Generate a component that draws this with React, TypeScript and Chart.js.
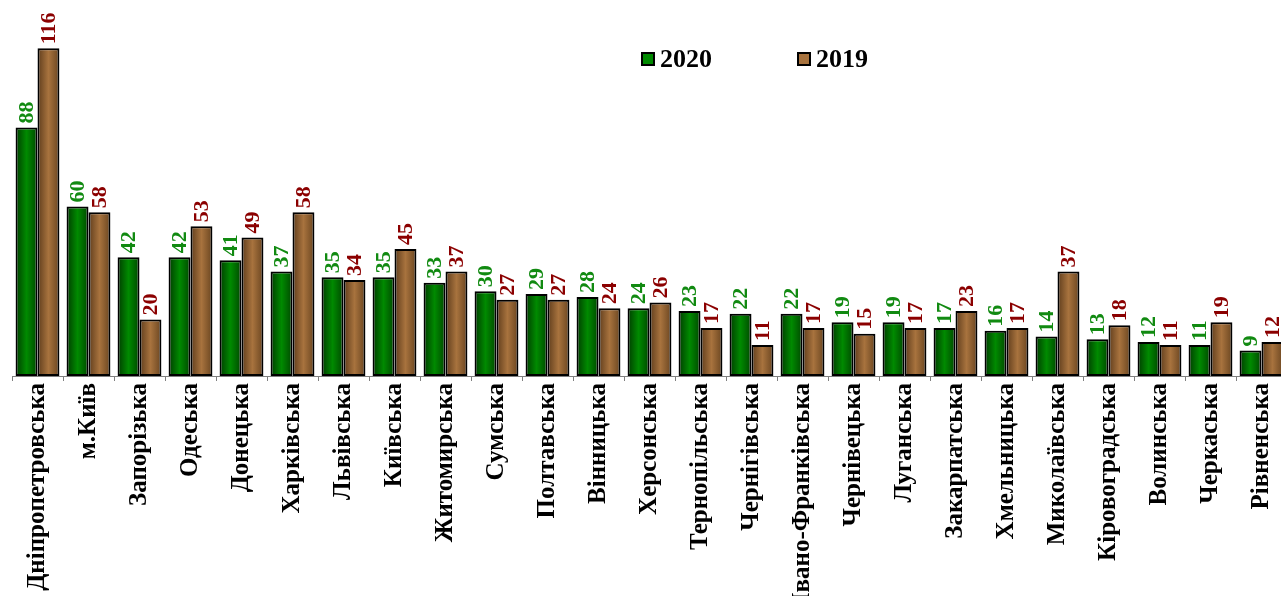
import React, { useEffect, useRef } from "react";
import { Chart, registerables } from "chart.js";

Chart.register(...registerables);

const categories = [
  "Дніпропетровська", "м.Київ", "Запорізька", "Одеська", "Донецька", "Харківська",
  "Львівська", "Київська", "Житомирська", "Сумська", "Полтавська", "Вінницька",
  "Херсонська", "Тернопільська", "Чернігівська", "Івано-Франківська", "Чернівецька",
  "Луганська", "Закарпатська", "Хмельницька", "Миколаївська", "Кіровоградська",
  "Волинська", "Черкаська", "Рівненська",
];
const values2020 = [88, 60, 42, 42, 41, 37, 35, 35, 33, 30, 29, 28, 24, 23, 22, 22, 19, 19, 17, 16, 14, 13, 12, 11, 9];
const values2019 = [116, 58, 20, 53, 49, 58, 34, 45, 37, 27, 27, 24, 26, 17, 11, 17, 15, 17, 23, 17, 37, 18, 11, 19, 12];
const seriesNames = ["2020", "2019"];

const FONT = "'Liberation Serif', 'Times New Roman', serif";
const barColors = ["#006e00", "#97632f"];
const gradStops = [
  ["#003c00", "#008a00", "#004800"],
  ["#5e3c1c", "#a8733e", "#6a4520"],
];
const labelColors = ["#118a11", "#8b0000"];
const CAT_PCT = 0.86;

function makeFill(di: number) {
  return (c: any) => {
    const chart = c.chart;
    const xs = chart.scales?.x;
    if (!xs || c.dataIndex == null || !chart.ctx) return barColors[di];
    const center = xs.getPixelForValue(c.dataIndex);
    const catW = xs.width / categories.length;
    const w = (catW * CAT_PCT) / 2;
    const left = di === 0 ? center - w : center;
    if (!isFinite(left)) return barColors[di];
    const g = chart.ctx.createLinearGradient(left, 0, left + w, 0);
    g.addColorStop(0, gradStops[di][0]);
    g.addColorStop(0.5, gradStops[di][1]);
    g.addColorStop(1, gradStops[di][2]);
    return g;
  };
}

const valueLabelPlugin = {
  id: "valueLabels",
  afterDatasetsDraw(chart: any) {
    const ctx = chart.ctx;
    ctx.save();
    ctx.font = `bold 22px ${FONT}`;
    chart.data.datasets.forEach((ds: any, di: number) => {
      const meta = chart.getDatasetMeta(di);
      meta.data.forEach((el: any, i: number) => {
        ctx.save();
        ctx.translate(el.x, el.y - 4);
        ctx.rotate(-Math.PI / 2);
        ctx.fillStyle = labelColors[di];
        ctx.textAlign = "left";
        ctx.textBaseline = "middle";
        ctx.fillText(String(ds.data[i]), 0, 1);
        ctx.restore();
      });
    });
    ctx.restore();
  },
};

const legendPlugin = {
  id: "customLegend",
  afterDraw(chart: any) {
    const ctx = chart.ctx;
    const items = [
      { x: 641, color: gradStops[0][1], text: seriesNames[0] },
      { x: 797, color: gradStops[1][1], text: seriesNames[1] },
    ];
    ctx.save();
    items.forEach((it) => {
      ctx.fillStyle = it.color;
      ctx.fillRect(it.x, 52, 14, 14);
      ctx.lineWidth = 2;
      ctx.strokeStyle = "#000";
      ctx.strokeRect(it.x + 1, 53, 12, 12);
      ctx.fillStyle = "#000";
      ctx.font = `bold 26px ${FONT}`;
      ctx.textAlign = "left";
      ctx.textBaseline = "middle";
      ctx.fillText(it.text, it.x + 19, 60);
    });
    ctx.restore();
  },
};

export default function App() {
  const ref = useRef<HTMLCanvasElement>(null);
  useEffect(() => {
    if (!ref.current) return;
    const chart = new Chart(ref.current, {
      type: "bar",
      data: {
        labels: categories,
        datasets: [
          {
            label: seriesNames[0],
            data: values2020,
            backgroundColor: makeFill(0),
            borderColor: "#000",
            borderWidth: 2,
            borderSkipped: false,
          },
          {
            label: seriesNames[1],
            data: values2019,
            backgroundColor: makeFill(1),
            borderColor: "#000",
            borderWidth: 2,
            borderSkipped: false,
          },
        ],
      },
      options: {
        responsive: false,
        animation: false,
        layout: { padding: { left: 12, right: 13, top: 37, bottom: 0 } },
        plugins: { legend: { display: false }, tooltip: { enabled: false } },
        datasets: { bar: { categoryPercentage: CAT_PCT, barPercentage: 1 } },
        scales: {
          x: {
            afterFit: (scale: any) => {
              scale.height = 220;
            },
            border: { display: true, color: "#808080", width: 1 },
            grid: {
              display: true,
              offset: true,
              drawOnChartArea: false,
              drawTicks: true,
              tickLength: 5,
              color: "#808080",
            },
            ticks: {
              autoSkip: false,
              maxRotation: 90,
              minRotation: 90,
              padding: 2,
              color: "#000",
              font: { family: FONT, weight: "bold", size: 25 },
            },
          },
          y: {
            display: false,
            min: 0,
            max: 120,
          },
        },
      },
      plugins: [valueLabelPlugin, legendPlugin],
    });
    return () => chart.destroy();
  }, []);
  return (
    <div style={{ position: "absolute", left: 0, top: 0, width: 1281, height: 596, overflow: "hidden", background: "#fff" }}>
      <canvas ref={ref} width={1300} height={596} style={{ display: "block" }} />
    </div>
  );
}
